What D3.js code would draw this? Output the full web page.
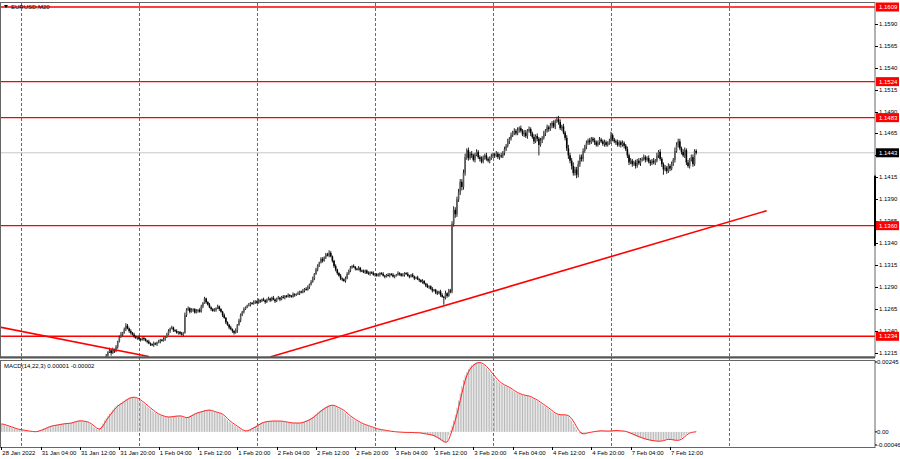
<!DOCTYPE html>
<meta charset="utf-8">
<script src="https://cdn.jsdelivr.net/npm/d3@7/dist/d3.min.js"></script>
<style>
body { margin: 0; background: #fff; }
text { font-family: "Liberation Sans", Arial, sans-serif; font-size: 6px; fill: #000; }
</style>
<body>
<script>

// EURUSD M20, closes in pips above 1.1000, one per bar (bar 0 = 28 Jan 20:00)
var BASE = 1.1, PIP = 0.0001;
var closes = [
  146,147,145,148,150,149,151,150,148,147, 146,148,147,150,152,151,153,155,154,156,
  158,157,160,162,161,160,163,165,164,166, 168,167,170,172,171,174,176,175,178,180,
  179,182,184,183,186,185,188,190,189,192, 194,193,196,195,198,200,199,202,201,203,
  204,202,205,207,212,216,218,215,219,217, 222,228,233,236,238,242,246,243,240,238,
  236,234,232,233,231,230,232,231,229,228, 226,225,224,226,225,227,228,230,229,231,
  233,236,240,243,244,241,240,238,239,237, 236,238,258,264,266,262,264,265,261,263,
  264,262,268,272,277,273,270,267,265,263, 264,266,268,265,262,258,255,250,247,244,
  242,240,238,241,247,252,258,262,265,267, 269,270,272,271,273,274,272,275,274,276,
  275,273,276,277,275,278,276,274,277,278, 276,279,278,280,279,281,280,279,282,281,
  282,283,285,284,286,288,287,290,293,296, 300,305,310,314,318,322,320,324,327,326,
  329,325,320,314,310,306,303,300,299,297, 300,305,309,312,314,313,311,310,312,309,
  308,307,309,306,305,307,306,304,305,303, 304,306,305,303,302,304,303,305,304,302,
  303,304,306,305,303,304,306,305,303,302, 304,302,300,301,299,298,296,297,294,292,
  290,291,288,286,287,284,283,285,281,279, 278,283,280,286,285,362,378,373,390,398,
  410,404,420,438,446,437,442,440,435,441, 444,438,436,433,438,440,436,434,437,439,
  441,440,442,438,440,439,443,447,451,456, 459,463,466,468,465,469,471,468,464,466,
  462,468,470,465,461,456,462,459,452,457, 460,465,468,472,470,474,477,473,479,481,
  478,471,473,466,460,448,440,434,428,420, 424,418,430,438,436,445,450,454,457,455,
  459,457,455,452,455,458,456,453,455,452, 454,456,463,458,456,455,452,455,452,454,
  451,447,440,432,434,430,432,428,434,431, 435,436,438,435,437,433,431,434,432,434,
  440,444,436,430,424,426,422,428,425,430, 435,445,452,456,448,444,440,446,432,428,
  435,438,430,445,443
];
var wickUp = [
  1,2,1,1,2,1,0,1,2,1,1,1,2,1,1,2,1,1,0,2,1,1,2,1,1,
  2,1,1,2,1,1,0,2,1,1,2,1,1,1,2,1,0,1,2,1,1,2,1,1,1,
  1,2,1,1,2,1,1,0,2,1,1,1,2,1,2,1,3,1,2,1,2,1,2,3,1,
  2,3,2,1,2,1,2,1,1,2,1,1,2,1,1,2,1,1,2,1,1,2,1,1,2,
  1,2,2,1,2,1,1,2,1,1,2,1,3,2,2,1,2,1,1,2,1,2,2,1,2,
  1,1,2,1,1,2,1,2,1,1,1,2,1,1,1,2,1,1,2,1,2,2,1,2,1,
  1,2,1,1,2,1,1,2,1,1,2,1,1,2,1,1,2,1,1,2,1,1,2,1,1,
  2,1,1,2,1,1,2,1,1,2,1,2,2,1,2,2,1,2,2,1,2,2,1,2,2,
  3,2,1,1,2,1,1,2,1,1,2,2,1,2,1,2,1,1,2,1,1,2,1,1,2,
  1,1,2,1,1,2,1,1,2,1,1,2,1,1,2,1,1,2,1,1,2,1,1,2,1,
  1,2,1,1,2,1,1,2,1,1,2,1,1,2,1,1,2,1,2,2,1,3,1,2,2,
  3,4,3,3,4,3,3,4,4,2,3,2,3,2,2,3,2,2,3,2,2,3,2,2,3,
  2,2,3,2,2,3,2,3,2,3,2,3,2,3,2,3,2,3,2,3,3,2,3,2,2,
  3,2,3,2,3,2,3,2,3,2,3,2,3,2,3,4,3,2,3,2,3,4,3,3,4,
  3,3,4,3,3,3,2,3,2,3,2,2,3,2,2,3,2,2,3,2,2,3,4,2,2,
  2,3,2,2,3,2,2,3,2,3,2,2,3,2,3,2,2,3,2,2,3,2,2,3,2,
  3,2,3,2,2,3,2,3,2,3,2,4,3,3,3,2,3,3,2,3,2,3,3,2,2
];
var wickDn = [
  1,1,2,1,1,2,1,1,1,2,1,1,2,1,1,1,2,1,1,2,1,1,1,2,1,
  1,2,1,1,1,2,1,1,2,1,1,1,2,1,1,2,1,1,1,2,1,1,2,1,1,
  2,1,1,2,1,1,2,1,1,2,1,2,1,1,2,2,1,3,1,2,1,2,1,1,2,
  1,2,1,2,2,1,2,1,2,1,2,1,2,1,2,1,2,1,2,1,2,1,2,1,1,
  2,1,1,2,1,2,1,1,2,1,1,2,1,2,1,2,1,2,1,1,2,1,1,2,1,
  2,1,1,2,1,1,2,1,2,1,2,1,2,1,2,1,2,2,1,3,1,2,1,2,1,
  1,1,2,1,1,2,1,1,2,1,1,2,1,1,2,1,1,2,1,1,2,1,1,2,1,
  1,2,1,1,2,1,1,2,1,1,2,1,1,2,1,1,2,1,2,1,1,2,1,2,1,
  2,1,2,2,2,2,1,2,2,1,2,1,1,2,1,1,2,1,1,2,1,1,2,1,1,
  2,1,1,2,1,1,2,1,1,2,1,1,2,1,1,2,1,1,2,1,1,2,1,1,2,
  1,1,2,1,1,2,1,2,1,2,1,2,1,2,1,2,2,1,2,1,8,2,2,1,2,
  2,3,4,3,3,3,4,3,3,3,3,2,3,2,3,2,2,3,2,2,3,2,2,3,2,
  2,3,2,2,3,2,2,3,2,2,3,2,2,3,2,2,3,2,2,3,2,3,2,3,2,
  3,2,3,12,2,3,2,3,2,3,2,3,2,3,2,3,2,3,2,3,3,4,3,4,3,
  3,4,3,3,3,3,2,3,2,3,2,2,3,2,2,3,2,2,3,2,2,2,3,2,2,
  3,2,2,3,2,3,2,3,3,2,3,2,3,2,2,3,2,2,3,2,2,3,2,2,3,
  2,3,2,3,6,2,3,2,3,2,2,3,2,3,2,3,2,3,3,2,3,2,3,2,2
];

// MACD main line, units of 0.00001, same bars
var macdMain = [
  28,26,24,22,20,18,16,14,12,10, 9,8,7,6,5,4,3,2,2,1,
  0,1,3,5,7,9,12,14,17,19, 21,22,23,24,25,26,27,28,29,29,
  30,30,31,33,35,37,38,39,39,38, 37,36,35,32,28,24,19,14,10,8,
  12,20,30,40,48,56,63,70,78,85, 91,95,98,102,106,110,114,117,120,121,
  122,121,119,116,112,108,103,99,94,89, 84,80,75,70,66,63,60,58,56,54,
  53,52,52,53,54,55,55,56,56,56, 54,51,49,50,53,56,59,62,65,67,
  69,70,72,74,75,76,77,76,74,72, 70,68,67,65,63,58,53,47,41,36,
  32,28,24,20,16,12,8,5,3,3, 5,8,11,14,17,20,24,28,31,33,
  35,36,37,37,38,38,38,38,38,38, 38,37,36,35,34,33,32,31,31,31,
  31,31,31,33,35,37,40,42,45,49, 53,58,63,68,73,77,81,85,88,91,
  93,94,93,91,88,85,82,80,76,71, 66,61,56,52,48,44,40,37,34,31,
  28,26,24,22,20,18,16,14,12,10, 9,8,7,6,5,4,3,2,1,1,
  0,0,-1,-1,-1,-2,-2,-2,-2,-2, -2,-3,-3,-3,-3,-4,-5,-6,-7,-8,
  -9,-10,-11,-13,-16,-19,-22,-26,-30,-34, -37,-38,-30,-12,5,22,40,60,85,110,
  135,160,182,198,210,220,228,234,238,241, 243,244,242,239,235,230,224,217,210,203,
  196,189,182,177,172,168,165,162,159,157, 153,149,145,141,138,135,133,131,129,128,
  127,126,124,121,118,115,112,108,104,100, 96,92,88,84,80,75,70,66,63,61,
  60,60,60,60,59,58,54,47,38,28, 18,8,0,-6,-8,-7,-5,-3,-2,-1,
  0,1,2,3,3,4,4,3,3,3, 3,3,4,4,5,5,4,4,3,3,
  2,0,-2,-4,-7,-9,-12,-14,-17,-19, -21,-23,-25,-26,-28,-29,-30,-31,-32,-32,
  -33,-33,-32,-31,-29,-27,-26,-26,-27,-28, -29,-30,-30,-29,-26,-22,-17,-12,-7,-4,
  -2,-1,0,0,1
];
var SIGNAL_PERIOD = 3;

var levels = [1.1609, 1.1524, 1.1483, 1.1360, 1.1234];
var lastPrice = 1.1443;
var priceTicks = [1.1590, 1.1565, 1.1540, 1.1515, 1.1490, 1.1465, 1.1440, 1.1415, 1.1390,
                  1.1365, 1.1340, 1.1315, 1.1290, 1.1265, 1.1240, 1.1215];
var xTickBars = [0, 24, 48, 72, 96, 120, 144, 168, 192, 216, 240, 264, 288, 312, 336, 360, 384, 408];
var xTickLabels = ["28 Jan 2022", "31 Jan 04:00", "31 Jan 12:00", "31 Jan 20:00", "1 Feb 04:00",
                   "1 Feb 12:00", "1 Feb 20:00", "2 Feb 04:00", "2 Feb 12:00", "2 Feb 20:00",
                   "3 Feb 04:00", "3 Feb 12:00", "3 Feb 20:00", "4 Feb 04:00", "4 Feb 12:00",
                   "4 Feb 20:00", "7 Feb 04:00", "7 Feb 12:00"];
var dayBars = [12, 84, 156, 228, 300, 372, 444];
var trendDown = [[-1, 1.12446], [90, 1.1211]];
var trendUp = [[164, 1.12105], [467, 1.1377]];
var macdTicks = [0.00245, 0, -0.00046];
var macdTickLabels = ["0.00245", "0.00", "-0.00046"];

var width = 900, height = 459;
var right = 875, mainTop = 3, mainBottom = 357, macdTop = 360, macdBottom = 447;

var svg = d3.select("body").append("svg")
    .attr("width", width)
    .attr("height", height);

var x = d3.scaleLinear().domain([12, 444]).range([21, 729]);
var y = d3.scaleLinear().domain([1.1215, 1.1609]).range([353, 7]);
var ym = d3.scaleLinear().domain([-0.00046, 0.00245]).range([445, 362]);

var bars = closes.map(function(c, i) {
  var o = i ? closes[i - 1] : c;
  return {
    i: i,
    o: BASE + o * PIP,
    c: BASE + c * PIP,
    h: BASE + (Math.max(o, c) + wickUp[i]) * PIP,
    l: BASE + (Math.min(o, c) - wickDn[i]) * PIP
  };
});

var macd = macdMain.map(function(v, i) {
  var s = 0, n = 0;
  for (var k = Math.max(0, i - SIGNAL_PERIOD + 1); k <= i; k++) { s += macdMain[k]; n++; }
  return { i: i, v: v * 1e-5, s: s / n * 1e-5 };
});

var defs = svg.append("defs");
defs.append("clipPath").attr("id", "clipMain").append("rect")
    .attr("x", 0).attr("y", mainTop).attr("width", right).attr("height", mainBottom - mainTop);
defs.append("clipPath").attr("id", "clipMacd").append("rect")
    .attr("x", 0).attr("y", macdTop).attr("width", right).attr("height", macdBottom - macdTop);

// day separators
svg.append("g").selectAll("line")
    .data(dayBars)
    .enter().append("line")
    .attr("x1", function(d) { return Math.round(x(d)) + 0.5; })
    .attr("x2", function(d) { return Math.round(x(d)) + 0.5; })
    .attr("y1", mainTop).attr("y2", macdBottom)
    .style("stroke", "#444")
    .style("stroke-width", 0.8)
    .style("stroke-dasharray", "3,2");

var main = svg.append("g").attr("clip-path", "url(#clipMain)");

// bid line
main.append("line")
    .attr("x1", 0).attr("x2", right)
    .attr("y1", y(lastPrice)).attr("y2", y(lastPrice))
    .style("stroke", "#c8c8c8").style("stroke-width", 1);

// levels
main.append("g").selectAll("line")
    .data(levels)
    .enter().append("line")
    .attr("x1", 0).attr("x2", right)
    .attr("y1", function(d) { return y(d); })
    .attr("y2", function(d) { return y(d); })
    .style("stroke", "#ff0000").style("stroke-width", 1.4);

// candles
var candle = main.append("g").selectAll("g")
    .data(bars)
    .enter().append("g");

candle.append("line")
    .attr("x1", function(d) { return x(d.i); })
    .attr("x2", function(d) { return x(d.i); })
    .attr("y1", function(d) { return y(d.h); })
    .attr("y2", function(d) { return y(d.l); })
    .style("stroke", "#222").style("stroke-width", 1);

candle.append("rect")
    .attr("x", function(d) { return x(d.i) - 0.8; })
    .attr("width", 1.6)
    .attr("y", function(d) { return y(Math.max(d.o, d.c)); })
    .attr("height", function(d) { return Math.max(1, Math.abs(y(d.o) - y(d.c))); })
    .style("fill", function(d) { return d.c >= d.o ? "#5a5a5a" : "#000"; });

// trend lines
[trendDown, trendUp].forEach(function(t) {
  main.append("line")
      .attr("x1", x(t[0][0])).attr("y1", y(t[0][1]))
      .attr("x2", x(t[1][0])).attr("y2", y(t[1][1]))
      .style("stroke", "#ff0000").style("stroke-width", 1.6);
});

// MACD pane
var mp = svg.append("g").attr("clip-path", "url(#clipMacd)");
mp.append("g").selectAll("line")
    .data(macd)
    .enter().append("line")
    .attr("x1", function(d) { return x(d.i); })
    .attr("x2", function(d) { return x(d.i); })
    .attr("y1", ym(0))
    .attr("y2", function(d) { return ym(d.v); })
    .style("stroke", "#b8b8b8").style("stroke-width", 1);

mp.append("path")
    .datum(macd)
    .attr("d", d3.line().x(function(d) { return x(d.i); }).y(function(d) { return ym(d.s); }))
    .style("fill", "none").style("stroke", "#ff2020").style("stroke-width", 1);

// frames
svg.append("rect")
    .attr("x", 0.5).attr("y", 2.5).attr("width", right - 0.5).attr("height", mainBottom - 2.5)
    .style("fill", "none").style("stroke", "#666").style("stroke-width", 1);
svg.append("line").attr("x1", 0).attr("x2", right).attr("y1", mainBottom + 0.5).attr("y2", mainBottom + 0.5)
    .style("stroke", "#555").style("stroke-width", 2);
svg.append("rect")
    .attr("x", 0.5).attr("y", macdTop + 0.5).attr("width", right - 0.5).attr("height", macdBottom - macdTop)
    .style("fill", "none").style("stroke", "#666").style("stroke-width", 1);
svg.append("rect")
    .attr("x", right - 1).attr("width", 2)
    .attr("y", y(1.1417)).attr("height", y(1.1337) - y(1.1417))
    .style("fill", "#000");

// title
svg.append("path").attr("d", "M4,5L8,5L6,8Z").style("fill", "#000");
svg.append("text").attr("x", 11).attr("y", 9).text("EURUSD,M20");
svg.append("text").attr("x", 4).attr("y", 368).text("MACD(14,22,3) 0.00001 -0.00002");

// price axis (the 1.1440 label sits under the bid box, so only its tick is drawn)
var pa = svg.append("g");
pa.selectAll("line.tk")
    .data(priceTicks)
    .enter().append("line")
    .attr("x1", right).attr("x2", right + 3)
    .attr("y1", function(d) { return Math.round(y(d)) + 0.5; })
    .attr("y2", function(d) { return Math.round(y(d)) + 0.5; })
    .style("stroke", "#000");
pa.selectAll("text.tk")
    .data(priceTicks.filter(function(d) { return Math.abs(d - lastPrice) > 0.0005; }))
    .enter().append("text")
    .attr("x", right + 4)
    .attr("y", function(d) { return y(d) + 2; })
    .text(function(d) { return d.toFixed(4); });

var lvl = pa.selectAll("g.lvl")
    .data(levels.concat([lastPrice]))
    .enter().append("g");
lvl.append("rect")
    .attr("x", right + 1).attr("width", 23)
    .attr("y", function(d) { return y(d) - 4.5; })
    .attr("height", 9)
    .style("fill", function(d) { return d === lastPrice ? "#000" : "#ff0000"; });
lvl.append("text")
    .attr("x", right + 4)
    .attr("y", function(d) { return y(d) + 2; })
    .style("fill", "#fff")
    .text(function(d) { return d.toFixed(4); });

// macd axis
pa.selectAll("text.m")
    .data(macdTicks)
    .enter().append("text")
    .attr("x", right + 2)
    .attr("y", function(d, i) { return ym(d) + 2; })
    .text(function(d, i) { return macdTickLabels[i]; });
pa.selectAll("line.m")
    .data(macdTicks)
    .enter().append("line")
    .attr("x1", right).attr("x2", right + 2)
    .attr("y1", function(d) { return ym(d); })
    .attr("y2", function(d) { return ym(d); })
    .style("stroke", "#000");

// time axis
var ta = svg.append("g");
ta.selectAll("line")
    .data(xTickBars)
    .enter().append("line")
    .attr("x1", function(d) { return Math.round(x(d)) + 0.5; })
    .attr("x2", function(d) { return Math.round(x(d)) + 0.5; })
    .attr("y1", macdBottom).attr("y2", macdBottom + 3)
    .style("stroke", "#000");
ta.selectAll("text")
    .data(xTickBars)
    .enter().append("text")
    .attr("x", function(d) { return x(d) + 1; })
    .attr("y", 455)
    .text(function(d, i) { return xTickLabels[i]; });

</script>
</body>
